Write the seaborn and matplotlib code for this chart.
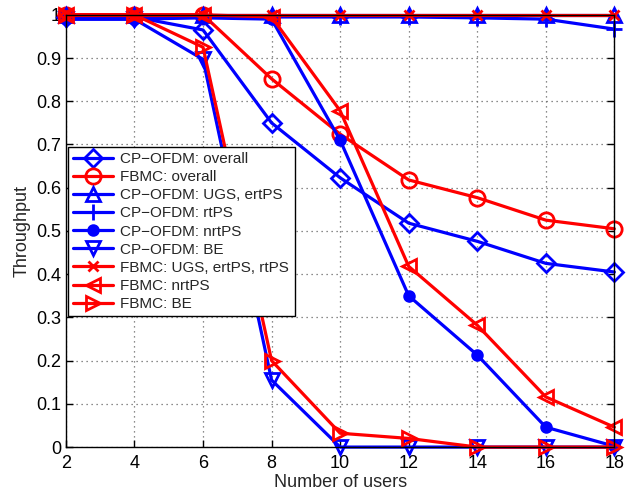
import matplotlib
matplotlib.use("Agg")
import matplotlib.pyplot as plt
import seaborn as sns
import pandas as pd

sns.set_style("ticks")
plt.rcParams["font.family"] = ["Liberation Sans", "DejaVu Sans"]

users = [2, 4, 6, 8, 10, 12, 14, 16, 18]

cp_overall = [0.995, 0.995, 0.965, 0.75, 0.623, 0.518, 0.476, 0.425, 0.405]
fb_overall = [1.0, 1.0, 1.0, 0.852, 0.724, 0.618, 0.577, 0.525, 0.505]
cp_ugs = [1.0, 1.0, 1.0, 1.0, 1.0, 1.0, 1.0, 1.0, 1.0]
cp_rtps = [0.995, 0.995, 0.995, 0.995, 0.995, 0.995, 0.993, 0.99, 0.967]
cp_nrtps = [0.99, 0.99, 0.993, 0.99, 0.71, 0.35, 0.213, 0.046, 0.002]
cp_be = [0.99, 0.99, 0.897, 0.155, 0.0, 0.0, 0.0, 0.0, 0.0]
fb_ugs = [1.0, 1.0, 1.0, 1.0, 1.0, 1.0, 1.0, 1.0, 1.0]
fb_nrtps = [1.0, 1.0, 1.0, 0.995, 0.778, 0.418, 0.282, 0.116, 0.046]
fb_be = [1.0, 1.0, 0.925, 0.2, 0.032, 0.02, 0.0, 0.0, 0.0]

yticks = [0, 0.1, 0.2, 0.3, 0.4, 0.5, 0.6, 0.7, 0.8, 0.9, 1]
ytick_labels = ["0", "0.1", "0.2", "0.3", "0.4", "0.5", "0.6", "0.7", "0.8", "0.9", "1"]

# name, values, colour, marker, filled, size
series = [
    ("CP\u2212OFDM: overall", cp_overall, "blue", "D", False, 9),
    ("FBMC: overall", fb_overall, "red", "o", False, 11),
    ("CP\u2212OFDM: UGS, ertPS", cp_ugs, "blue", "^", False, 10),
    ("CP\u2212OFDM: rtPS", cp_rtps, "blue", "+", False, 11),
    ("CP\u2212OFDM: nrtPS", cp_nrtps, "blue", "o", True, 7),
    ("CP\u2212OFDM: BE", cp_be, "blue", "v", False, 10),
    ("FBMC: UGS, ertPS, rtPS", fb_ugs, "red", "x", False, 7),
    ("FBMC: nrtPS", fb_nrtps, "red", "<", False, 10),
    ("FBMC: BE", fb_be, "red", ">", False, 10),
]

fig, ax = plt.subplots(figsize=(6.34, 4.94), dpi=100)

for name, vals, col, mk, filled, ms in series:
    df = pd.DataFrame({"users": users, "thr": vals})
    sns.lineplot(data=df, x="users", y="thr", ax=ax, color=col, lw=2.3,
                 marker=mk, markersize=ms, markeredgewidth=2.0,
                 markeredgecolor=col,
                 markerfacecolor=col if filled else "none",
                 label=name, clip_on=False)

ax.set_xlim(2, 18)
ax.set_ylim(0, 1)
ax.set_xticks(users)
ax.set_yticks(yticks)
ax.set_yticklabels(ytick_labels)
ax.tick_params(direction="in", top=True, right=True, labelsize=13, length=5,
               width=1, colors="black")
ax.tick_params(axis="x", pad=6)
ax.grid(True, linestyle=(0, (1, 3)), color="0.4", lw=0.9)
for s in ax.spines.values():
    s.set_visible(True)
    s.set_color("black")
    s.set_linewidth(1.0)
ax.set_xlabel("Number of users", fontsize=13, labelpad=1)
ax.set_ylabel("Throughput", fontsize=13, labelpad=4)

leg = ax.legend(loc="upper left", bbox_to_anchor=(0.003, 0.695), fontsize=11,
                frameon=True, fancybox=False, borderaxespad=0, handlelength=2.6,
                labelspacing=0.27, borderpad=0.35, handletextpad=0.5)
leg.get_frame().set_edgecolor("black")
leg.get_frame().set_linewidth(1.0)
leg.get_frame().set_alpha(1)

plt.subplots_adjust(left=0.104, right=0.969, top=0.97, bottom=0.095)
plt.savefig("out.png", dpi=100)
